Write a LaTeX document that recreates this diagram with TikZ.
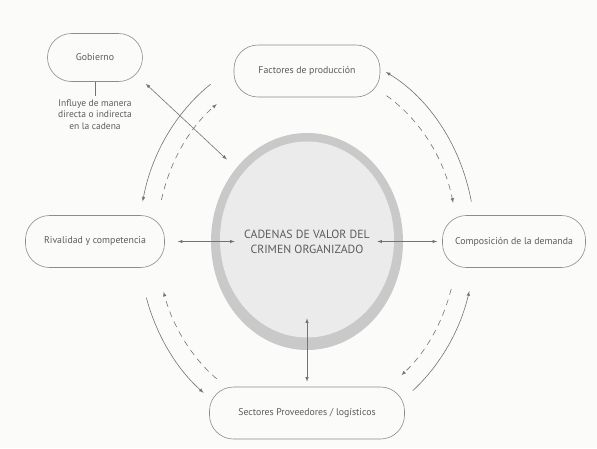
\documentclass[tikz,border=0pt]{standalone}
\usepackage{fontspec}
\setmainfont{PT Sans}
\usepackage{tikz}
\usetikzlibrary{positioning,shapes.geometric}
\definecolor{paper}{rgb}{0.985, 0.985, 0.978}
\definecolor{linegray}{rgb}{0.45, 0.45, 0.45}
\definecolor{textgray}{rgb}{0.36, 0.36, 0.36}
\definecolor{boxgray}{rgb}{0.55, 0.55, 0.55}
\definecolor{ringgray}{rgb}{0.79, 0.79, 0.79}
\definecolor{corefill}{rgb}{0.92, 0.92, 0.92}

\begin{document}
\begin{tikzpicture}[x=1pt, y=1pt, on grid, semithick,
	box/.style={rectangle, rounded corners=24pt, draw=boxgray, fill=paper, text=textgray, font=\fontsize{9.8}{12}\selectfont, minimum height=52pt},
	link/.style={draw=linegray, latex-latex},
	flow/.style={draw=linegray, -latex},
	backflow/.style={draw=linegray, -latex, dash pattern=on 6pt off 5pt}]
	% fondo y margenes
	\fill[paper] (-307,-206.5) rectangle (290,241.5);
	\useasboundingbox (-307,-206.5) rectangle (290,241.5);
	% nodos
	\node [ellipse, inner sep=0pt, minimum width=192pt, minimum height=217pt, fill=ringgray, text=textgray, align=center, font=\fontsize{11.8}{15}\selectfont,
		path picture={\fill[corefill] ([yshift=2pt]path picture bounding box.center) ellipse [x radius=87pt, y radius=98pt];}] (core) at (0,0) {CADENAS DE VALOR DEL\\CRIMEN ORGANIZADO};
	\node [box, minimum width=146pt] (fact) [above=170.5pt of core] {Factores de producción};
	\node [box, minimum width=195pt] (sect) [below=171.5pt of core] {Sectores Proveedores / logísticos};
	\node [box, minimum width=139pt] (rival) [left=212pt of core] {Rivalidad y competencia};
	\node [box, minimum width=143pt] (comp) [right=207pt of core] {Composición de la demanda};
	\node [box, minimum width=95pt, minimum height=48pt] (gob) [above=184pt of rival] {Gobierno};
	\node [text=textgray, align=center, font=\fontsize{9.5}{11.5}\selectfont] (gobnote) [below=57pt of gob] {Influye de manera\\directa o indirecta\\en la cadena};
	% conexiones con el centro
	\draw [linegray] (gob) -- (gobnote);
	\draw [link] ([shift={(3pt,-2pt)}]gob.south east) -- ([shift={(-12pt,5pt)}]core.north west);
	\draw [link] ([xshift=13pt]rival.east) -- ([xshift=24pt]core.west);
	\draw [link] ([xshift=-26pt]core.east) -- ([xshift=-5pt]comp.west);
	\draw [link] ([yshift=5pt]sect.north) -- ([yshift=32pt]core.south);
	% arcos exteriores
	\draw [flow] (core.center) ++(125:168pt and 192pt) arc [start angle=125, end angle=168, x radius=168pt, y radius=192pt];
	\draw [flow] (core.center) ++(12:168pt and 192pt) arc [start angle=12, end angle=62, x radius=168pt, y radius=192pt];
	\draw [flow] (core.center) ++(-51:168pt and 192pt) arc [start angle=-51, end angle=-15, x radius=168pt, y radius=192pt];
	\draw [flow] (core.center) ++(197:168pt and 192pt) arc [start angle=197, end angle=232, x radius=168pt, y radius=192pt];
	% arcos interiores
	\draw [backflow] (core.center) ++(166:150pt and 172pt) arc [start angle=166, end angle=127, x radius=150pt, y radius=172pt];
	\draw [backflow] (core.center) ++(58:150pt and 172pt) arc [start angle=58, end angle=13, x radius=150pt, y radius=172pt];
	\draw [backflow] (core.center) ++(-16:150pt and 172pt) arc [start angle=-16, end angle=-51, x radius=150pt, y radius=172pt];
	\draw [backflow] (core.center) ++(233:150pt and 172pt) arc [start angle=233, end angle=197, x radius=150pt, y radius=172pt];
\end{tikzpicture}
\end{document}
